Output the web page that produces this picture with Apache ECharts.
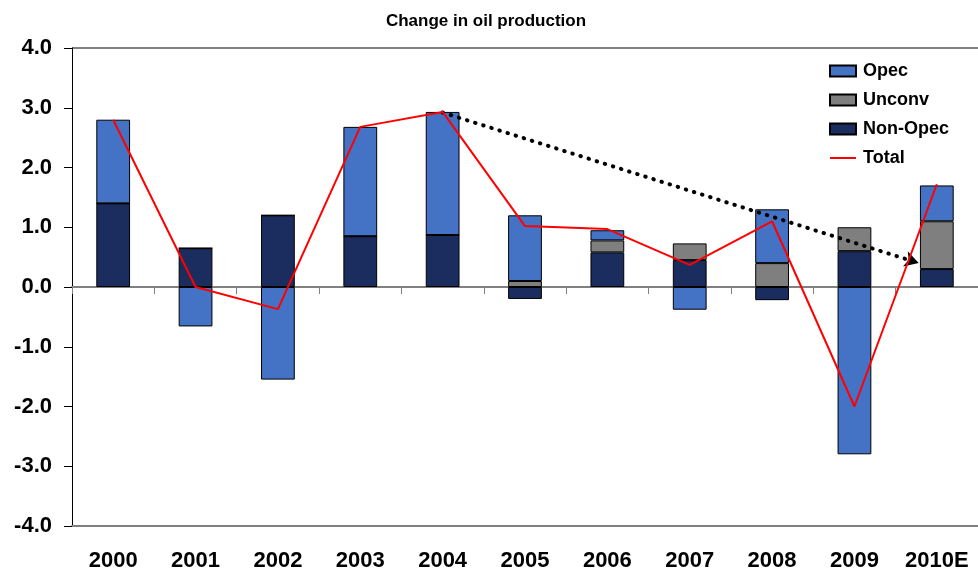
<!DOCTYPE html>
<html>
<head>
<meta charset="utf-8">
<script src="https://cdn.jsdelivr.net/npm/echarts@6/dist/echarts.min.js"></script>
<style>
  html, body { margin: 0; padding: 0; background: #fff; }
  #chart { width: 978px; height: 576px; }
</style>
</head>
<body>
<div id="chart"></div>
<script>
// categories + series values
const years = ['2000', '2001', '2002', '2003', '2004', '2005', '2006', '2007', '2008', '2009', '2010E']
const nonOpec = [1.4, 0.65, 1.2, 0.85, 0.87, -0.2, 0.58, 0.45, -0.22, 0.6, 0.3]
const unconv = [0, 0, 0, 0, 0, 0.1, 0.2, 0.28, 0.4, 0.4, 0.8]
const opec = [1.4, -0.66, -1.55, 1.83, 2.06, 1.1, 0.17, -0.38, 0.9, -2.8, 0.6]
const total = [2.8, 0, -0.37, 2.68, 2.93, 1.02, 0.97, 0.37, 1.1, -2.0, 1.72]
// dotted trend arrow (category position, value)
const arrowFrom = [4, 2.92]
const arrowTo = [9.78, 0.4]

const FONT = 'Liberation Sans, Arial, sans-serif'
const border = { borderColor: '#000', borderWidth: 1 }

const chart = echarts.init(document.getElementById('chart'))
const option = {
  animation: false,
  title: {
    text: 'Change in oil production',
    left: 481,
    top: 8,
    textAlign: 'center',
    textStyle: { fontFamily: FONT, fontSize: 17, fontWeight: 'bold', color: '#000' }
  },
  legend: {
    orient: 'vertical',
    left: 824,
    top: 57,
    itemWidth: 26,
    itemHeight: 11,
    itemGap: 11,
    icon: 'rect',
    textStyle: { fontFamily: FONT, fontSize: 18, fontWeight: 'bold', color: '#000', padding: [0, 0, 0, 2] },
    data: [
      'Opec', 'Unconv', 'Non-Opec',
      { name: 'Total', icon: 'path://M0,0 H26 V2 H0 Z' }
    ]
  },
  grid: { left: 72, top: 48, width: 907, bottom: 50, containLabel: false },
  xAxis: [
    {
      type: 'category',
      data: years,
      axisLine: { onZero: false, lineStyle: { color: '#808080', width: 2 } },
      axisTick: { show: false },
      axisLabel: { interval: 0, fontFamily: FONT, fontSize: 22, fontWeight: 'bold', color: '#000', margin: 24 }
    },
    {
      type: 'category',
      data: years,
      position: 'bottom',
      axisLine: { onZero: true, lineStyle: { color: '#808080', width: 2 } },
      axisTick: { show: true, interval: 0, length: 7, lineStyle: { color: '#808080', width: 1 } },
      axisLabel: { show: false }
    },
    {
      // hidden linear twin of the category axis, used only for the trend arrow
      type: 'value', min: -0.5, max: years.length - 0.5, show: false
    }
  ],
  yAxis: {
    type: 'value',
    min: -4,
    max: 4,
    interval: 1,
    axisLine: { show: true, onZero: false, lineStyle: { color: '#000', width: 1 } },
    axisTick: { show: true, length: 8, lineStyle: { color: '#000' } },
    axisLabel: {
      fontFamily: FONT, fontSize: 22, fontWeight: 'bold', color: '#000', margin: 20,
      formatter: v => v.toFixed(1)
    },
    splitLine: {
      show: true,
      lineStyle: {
        color: ['transparent', 'transparent', 'transparent', 'transparent', 'transparent',
          'transparent', 'transparent', 'transparent', '#808080'],
        width: 2
      }
    }
  },
  series: [
    {
      name: 'Non-Opec', type: 'bar', stack: 'prod', barWidth: '41%',
      itemStyle: Object.assign({ color: '#1B2D5E' }, border),
      data: nonOpec
    },
    {
      name: 'Unconv', type: 'bar', stack: 'prod',
      itemStyle: Object.assign({ color: '#7F7F7F' }, border),
      data: unconv
    },
    {
      name: 'Opec', type: 'bar', stack: 'prod',
      itemStyle: Object.assign({ color: '#4472C4' }, border),
      data: opec
    },
    {
      name: 'Total', type: 'line', symbol: 'none', z: 5,
      lineStyle: { color: '#FF0000', width: 2 },
      itemStyle: { color: '#FF0000' },
      data: total
    },
    {
      name: 'trend', type: 'line', xAxisIndex: 2, symbol: 'none', silent: true, z: 6,
      lineStyle: { opacity: 0 },
      data: [arrowFrom, arrowTo],
      markLine: {
        silent: true,
        symbol: ['none', 'arrow'],
        symbolSize: [12, 14],
        label: { show: false },
        lineStyle: { color: '#000', width: 4, type: [0.5, 8], cap: 'round' },
        data: [[{ coord: arrowFrom }, { coord: arrowTo }]]
      }
    }
  ]
}
chart.setOption(option)
</script>
</body>
</html>
